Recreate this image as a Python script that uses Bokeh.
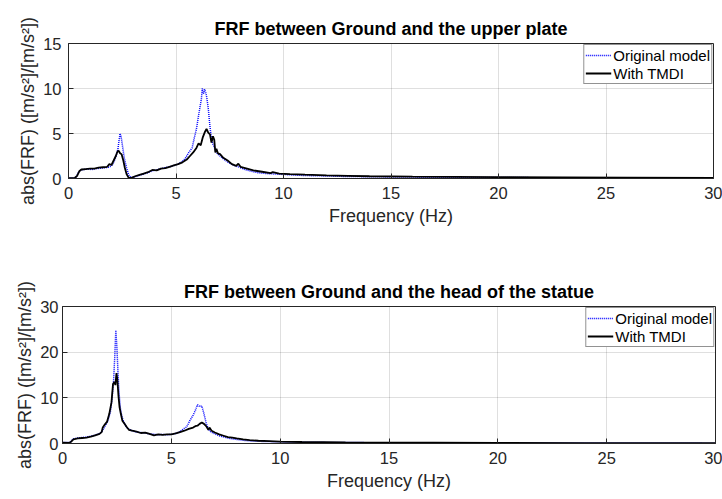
from bokeh.plotting import figure
from bokeh.layouts import column, row
from bokeh.models import FixedTicker
from bokeh.embed import file_html
from bokeh.resources import INLINE

# ---------------- data ----------------
x_ticks = [0, 5, 10, 15, 20, 25, 30]
y_ticks_top = [0, 5, 10, 15]
y_ticks_bot = [0, 10, 20, 30]

title_top = "FRF between Ground and the upper plate"
title_bot = "FRF between Ground and the head of the statue"
x_label = "Frequency (Hz)"
y_label = "abs(FRF) ([m/s²]/[m/s²])"
series_names = ["Original model", "With TMDI"]

# upper plate – original model
f_top_orig = [0, 0.2, 0.35, 0.45, 0.55, 0.7, 0.9, 1.1, 1.3, 1.5, 1.7, 1.85, 2.0, 2.1, 2.2,
              2.3, 2.35, 2.4, 2.45, 2.5, 2.55, 2.6, 2.7, 2.8, 2.9, 3.0, 3.1, 3.3, 3.5, 3.7,
              3.9, 4.1, 4.3, 4.5, 4.7, 4.9, 5.1, 5.3, 5.45, 5.6, 5.75, 5.85, 5.95, 6.05,
              6.12, 6.18, 6.22, 6.28, 6.33, 6.38, 6.43, 6.5, 6.57, 6.63, 6.7, 6.78, 6.85,
              6.95, 7.1, 7.3, 7.5, 7.7, 7.9, 8.2, 8.5, 8.8, 9.2, 9.6, 10.0, 10.5, 11, 12,
              13, 14, 15, 17, 19, 21, 24, 27, 30]
a_top_orig = [0.05, 0.05, 0.1, 0.6, 0.9, 1.0, 1.05, 1.0, 1.1, 1.15, 1.2, 1.25, 1.4, 1.8, 2.4,
              3.3, 4.2, 5.0, 4.6, 3.8, 3.0, 2.2, 1.2, 0.4, 0.12, 0.1, 0.2, 0.35, 0.5, 0.65,
              0.85, 0.95, 1.1, 1.2, 1.3, 1.45, 1.6, 1.9, 2.3, 2.9, 3.4, 4.5, 5.5, 7.0,
              8.0, 8.8, 10.0, 9.4, 9.9, 9.6, 9.0, 7.8, 6.0, 4.8, 3.9, 3.5, 3.0,
              2.7, 2.4, 2.0, 1.7, 1.45, 1.3, 1.0, 0.8, 0.65, 0.55, 0.5, 0.45, 0.38, 0.33, 0.28,
              0.22, 0.2, 0.17, 0.14, 0.12, 0.1, 0.08, 0.07, 0.06]

# upper plate – with TMDI
f_top_tmdi = [0, 0.3, 0.4, 0.5, 0.6, 0.8, 1.0, 1.2, 1.4, 1.6, 1.8, 1.9, 2.0, 2.1, 2.2, 2.28,
              2.33, 2.4, 2.47, 2.55, 2.62, 2.7, 2.78, 2.85, 2.95, 3.1, 3.3, 3.5, 3.7, 3.9,
              4.1, 4.3, 4.5, 4.7, 4.9, 5.1, 5.3, 5.5, 5.65, 5.8, 5.95, 6.05, 6.15, 6.25,
              6.35, 6.42, 6.5, 6.58, 6.65, 6.72, 6.78, 6.83, 6.88, 6.95, 7.05, 7.2, 7.4,
              7.6, 7.8, 7.9, 8.0, 8.3, 8.6, 9.0, 9.4, 9.5, 9.8, 10.3, 11, 12, 13, 14, 16,
              18, 20, 23, 26, 30]
a_top_tmdi = [0.05, 0.08, 0.3, 0.8, 1.0, 1.05, 1.1, 1.1, 1.2, 1.25, 1.3, 1.6, 1.5, 2.0, 2.5, 3.0,
              3.1, 2.8, 2.7, 2.0, 1.2, 0.5, 0.15, 0.05, 0.1, 0.25, 0.4, 0.55, 0.7, 0.95,
              0.9, 1.1, 1.15, 1.3, 1.45, 1.6, 1.8, 2.1, 2.5, 2.9, 3.4, 3.9, 3.7, 4.6,
              5.2, 5.5, 5.1, 4.9, 4.0, 4.7, 4.3, 2.9, 3.3, 2.8, 2.7, 2.3, 2.0,
              1.6, 1.4, 1.65, 1.3, 1.1, 0.9, 0.75, 0.6, 0.7, 0.55, 0.48, 0.42, 0.35, 0.3, 0.25, 0.2,
              0.18, 0.15, 0.12, 0.1, 0.08]

# head of statue – original model
f_bot_orig = [0, 0.3, 0.4, 0.5, 0.7, 0.9, 1.1, 1.3, 1.5, 1.7, 1.8, 1.9, 2.0, 2.1, 2.2, 2.28,
              2.35, 2.4, 2.45, 2.5, 2.55, 2.6, 2.65, 2.7, 2.8, 2.9, 3.0, 3.2, 3.4, 3.6, 3.8,
              4.0, 4.2, 4.4, 4.6, 4.8, 5.0, 5.2, 5.4, 5.55, 5.7, 5.85, 6.0, 6.1, 6.2, 6.3,
              6.4, 6.5, 6.6, 6.7, 6.8, 7.0, 7.2, 7.5, 7.8, 8.0, 8.3, 8.7, 9.2, 9.7, 10.2,
              11, 12, 13, 15, 17, 20, 24, 30]
a_bot_orig = [0.2, 0.2, 0.5, 1.0, 1.2, 1.3, 1.4, 1.6, 1.8, 2.2, 2.6, 3.3, 4.2, 5.2, 7.0, 10.0,
              14.0, 19.0, 24.8, 21.0, 15.5, 11.0, 8.0, 6.5, 4.8, 3.9, 3.3, 2.8, 2.5, 2.4, 2.3,
              2.1, 2.0, 1.9, 2.0, 1.9, 2.0, 2.2, 2.6, 3.2, 3.6, 5.0, 6.2, 7.2, 8.5, 8.1,
              8.2, 6.5, 4.5, 3.2, 2.6, 2.1, 1.7, 1.3, 1.0, 0.9, 0.7, 0.55, 0.45, 0.4, 0.35,
              0.3, 0.25, 0.2, 0.18, 0.15, 0.12, 0.1, 0.08]

# head of statue – with TMDI
f_bot_tmdi = [0, 0.3, 0.4, 0.5, 0.7, 0.9, 1.1, 1.3, 1.5, 1.7, 1.8, 1.85, 1.95, 2.05, 2.15,
              2.25, 2.32, 2.38, 2.43, 2.48, 2.52, 2.57, 2.62, 2.68, 2.75, 2.85, 2.95, 3.05,
              3.2, 3.4, 3.6, 3.8, 4.0, 4.2, 4.4, 4.6, 4.8, 5.0, 5.2, 5.4, 5.6, 5.8, 6.0,
              6.1, 6.2, 6.3, 6.4, 6.5, 6.6, 6.7, 6.75, 6.85, 7.0, 7.2, 7.4, 7.6, 7.8, 8.0,
              8.3, 8.6, 9.0, 9.5, 10, 11, 12, 13, 15, 17, 20, 24, 30]
a_bot_tmdi = [0.2, 0.15, 0.4, 0.9, 1.1, 1.2, 1.3, 1.5, 1.8, 2.1, 2.5, 3.5, 4.2, 4.8, 6.5,
              9.0, 13.0, 13.5, 12.8, 15.4, 14.0, 10.5, 8.0, 6.5, 5.0, 4.3, 3.6, 3.0,
              2.8, 2.6, 2.3, 2.4, 2.1, 1.8, 2.0, 1.9, 2.0, 2.0, 2.2, 2.5, 2.8, 3.2, 3.5,
              3.8, 3.9, 4.3, 4.6, 4.3, 3.8, 3.0, 3.5, 2.8, 2.4, 2.0, 1.7, 1.4, 1.3, 1.1,
              0.9, 0.75, 0.6, 0.5, 0.4, 0.33, 0.28, 0.24, 0.2, 0.16, 0.13, 0.1, 0.08]

FONT = "Liberation Sans"
DARK = "#262626"


def make_panel(title, f_o, a_o, f_t, a_t, y_max, y_ticks, height, borders, lab_standoff):
    left, right, top, bottom = borders
    p = figure(width=722, height=height, x_range=(0, 30), y_range=(0, y_max),
               output_backend="svg", toolbar_location=None,
               min_border_left=left, min_border_right=right,
               min_border_top=top, min_border_bottom=bottom)
    p.title.text = title
    p.title.align = "center"
    p.title.text_font = FONT
    p.title.text_font_size = "18px"
    p.title.text_font_style = "bold"
    p.title.text_color = "#000000"
    p.title.standoff = 10

    p.outline_line_color = DARK
    p.outline_line_width = 1
    p.background_fill_color = "white"
    p.border_fill_color = "white"

    for ax in (p.xaxis[0], p.yaxis[0]):
        ax.major_tick_in = 5
        ax.major_tick_out = 0
        ax.minor_tick_line_color = None
        ax.axis_line_color = DARK
        ax.major_tick_line_color = DARK
        ax.major_label_text_font = FONT
        ax.major_label_text_font_size = "16.5px"
        ax.major_label_text_color = DARK
        ax.axis_label_text_font = FONT
        ax.axis_label_text_font_size = "18px"
        ax.axis_label_text_font_style = "normal"
        ax.axis_label_text_color = DARK
    p.xaxis.ticker = FixedTicker(ticks=x_ticks)
    p.yaxis.ticker = FixedTicker(ticks=y_ticks)
    p.xaxis.axis_label = x_label
    p.yaxis.axis_label = y_label
    p.xaxis.major_label_standoff = 8
    p.yaxis.major_label_standoff = lab_standoff
    p.xaxis.axis_label_standoff = 4
    p.yaxis.axis_label_standoff = 2

    p.grid.grid_line_color = DARK
    p.grid.grid_line_alpha = 0.15
    p.grid.grid_line_width = 1
    p.xgrid.ticker = FixedTicker(ticks=x_ticks)
    p.ygrid.ticker = FixedTicker(ticks=y_ticks)

    p.line(f_o, a_o, color="#0000ff", line_width=1.5, line_dash="1 1",
           legend_label=series_names[0])
    p.line(f_t, a_t, color="#000000", line_width=1.8, legend_label=series_names[1])

    lg = p.legend[0]
    lg.location = "top_right"
    lg.margin = 1
    lg.padding = 1
    lg.spacing = 0
    lg.border_line_color = DARK
    lg.border_line_width = 1
    lg.background_fill_color = "white"
    lg.background_fill_alpha = 1
    lg.label_text_font = FONT
    lg.label_text_font_size = "15px"
    lg.label_text_color = "#000000"
    lg.glyph_width = 26
    lg.glyph_height = 18
    lg.label_height = 18
    lg.label_standoff = 2
    return p


p1 = make_panel(title_top, f_top_orig, a_top_orig, f_top_tmdi, a_top_tmdi,
                15, y_ticks_top, 250, (68, 9, 43, 72), 7)
p2 = make_panel(title_bot, f_bot_orig, a_bot_orig, f_bot_tmdi, a_bot_tmdi,
                30, y_ticks_bot, 249, (62, 7, 56, 56), 4)

layout = column(row(p1), row(p2), spacing=0)
open("out.html", "w").write(file_html(layout, INLINE))
